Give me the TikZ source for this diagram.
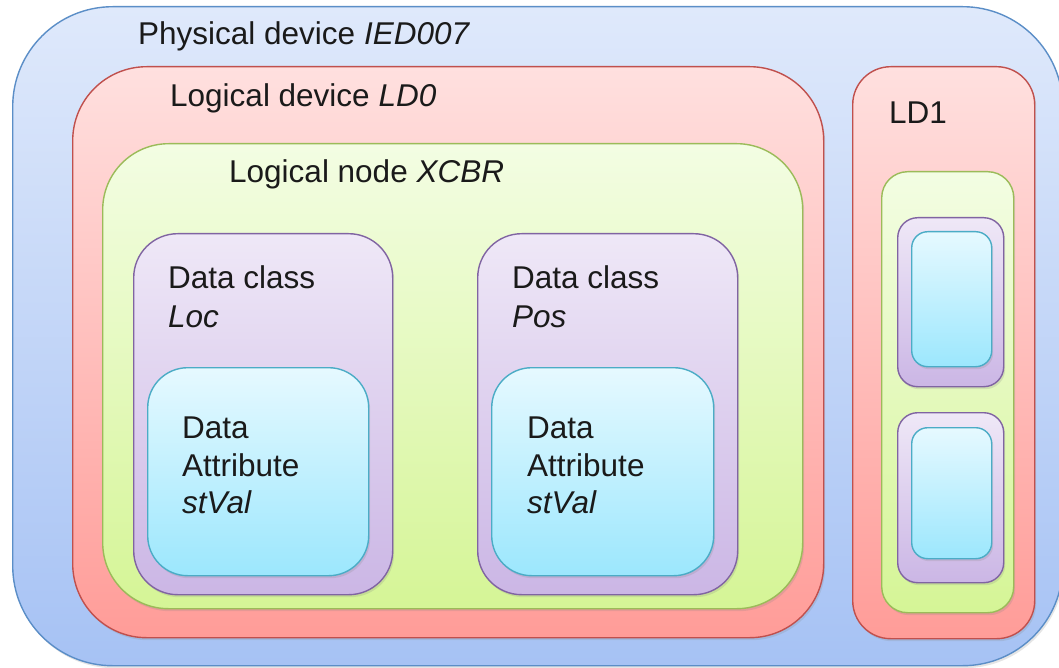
\documentclass[tikz,border=0pt]{standalone}
\usepackage{fontspec}
\setmainfont{Liberation Sans}
\usetikzlibrary{shadows}
\definecolor{bluetop}{HTML}{DFE9FB}
\definecolor{bluebot}{HTML}{A6C2F4}
\definecolor{blueline}{HTML}{5B8EC7}
\definecolor{redtop}{HTML}{FFE0DF}
\definecolor{redbot}{HTML}{FF9C98}
\definecolor{redline}{HTML}{C0504D}
\definecolor{greentop}{HTML}{F3FDE3}
\definecolor{greenbot}{HTML}{D5F596}
\definecolor{greenline}{HTML}{9BBB59}
\definecolor{purpletop}{HTML}{EFE8F7}
\definecolor{purplebot}{HTML}{CBB6E5}
\definecolor{purpleline}{HTML}{8064A2}
\definecolor{cyantop}{HTML}{E6F9FF}
\definecolor{cyanbot}{HTML}{9CE7FD}
\definecolor{cyanline}{HTML}{4BACC6}
\definecolor{textcol}{HTML}{1A1A1A}
\tikzset{
  x=1pt, y=-1pt,
  box/.style={rectangle, anchor=north west, inner sep=0pt, line width=1.4pt,
    drop shadow={opacity=0.2, shadow xshift=1.5pt, shadow yshift=-2.5pt}},
  bluebox/.style={box, draw=blueline, top color=bluetop, bottom color=bluebot},
  redbox/.style={box, draw=redline, top color=redtop, bottom color=redbot},
  greenbox/.style={box, draw=greenline, top color=greentop, bottom color=greenbot},
  purplebox/.style={box, draw=purpleline, top color=purpletop, bottom color=purplebot},
  cyanbox/.style={box, draw=cyanline, top color=cyantop, bottom color=cyanbot},
  label/.style={anchor=base west, inner sep=0pt, text=textcol, font=\fontsize{31.5}{39}\selectfont}
}
\begin{document}
\begin{tikzpicture}
\useasboundingbox (0,0) rectangle (1059,668);
\clip (0,0) rectangle (1059,668);
\fill[white] (0,0) rectangle (1059,668);

% physical device
\node[bluebox, rounded corners=100pt, minimum width=1050pt, minimum height=659pt] (phys) at (12,6) {};

% logical device LD0
\node[redbox, rounded corners=74pt, minimum width=751pt, minimum height=571pt] (ld0) at (72,66) {};
% logical node XCBR
\node[greenbox, rounded corners=66pt, minimum width=700pt, minimum height=465pt] (xcbr) at (102,143) {};
% data class Loc
\node[purplebox, rounded corners=44pt, minimum width=259pt, minimum height=361pt] (loc) at (133,233) {};
\node[cyanbox, rounded corners=40pt, minimum width=221pt, minimum height=208pt] (locda) at (147,367) {};
% data class Pos
\node[purplebox, rounded corners=44pt, minimum width=260pt, minimum height=361pt] (pos) at (477,233) {};
\node[cyanbox, rounded corners=40pt, minimum width=222pt, minimum height=208pt] (posda) at (491,367) {};

% logical device LD1
\node[redbox, rounded corners=38pt, minimum width=182pt, minimum height=572pt] (ld1) at (852,66) {};
\node[greenbox, rounded corners=26pt, minimum width=132pt, minimum height=441pt] (ld1ln) at (881,171) {};
\node[purplebox, rounded corners=20pt, minimum width=106pt, minimum height=169pt] (ld1dca) at (897,217) {};
\node[cyanbox, rounded corners=16pt, minimum width=80pt, minimum height=135pt] (ld1daa) at (911,231) {};
\node[purplebox, rounded corners=20pt, minimum width=106pt, minimum height=170pt] (ld1dcb) at (897,412) {};
\node[cyanbox, rounded corners=16pt, minimum width=80pt, minimum height=131pt] (ld1dab) at (911,427) {};

% labels
\node[label] (physlbl) at (138,45) {Physical device \textit{IED007}};
\node[label] (ld0lbl) at (170,107) {Logical device \textit{LD0}};
\node[label] (xcbrlbl) at (229,183) {Logical node \textit{XCBR}};
\node[label] (ld1lbl) at (889,124) {LD1};
\node[label] (loclbl) at (168,288) {Data class};
\node[label] (locname) at (168,327) {\textit{Loc}};
\node[label] (poslbl) at (512,288) {Data class};
\node[label] (posname) at (512,327) {\textit{Pos}};
\node[label] (locda1) at (182,438) {Data};
\node[label] (locda2) at (182,476) {Attribute};
\node[label] (locda3) at (182,513) {\textit{stVal}};
\node[label] (posda1) at (527,438) {Data};
\node[label] (posda2) at (527,476) {Attribute};
\node[label] (posda3) at (527,513) {\textit{stVal}};
\end{tikzpicture}
\end{document}
